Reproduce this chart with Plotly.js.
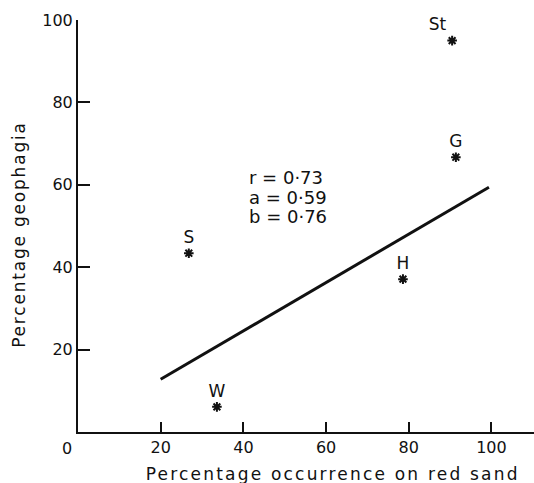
<!DOCTYPE html>
<html>
<head>
<meta charset="utf-8">
<script src="https://cdn.plot.ly/plotly-3.0.1.min.js"></script>
<style>html,body{margin:0;padding:0;background:#fff;}#chart{width:534px;height:483px;}</style>
</head>
<body>
<div id="chart"></div>
<script>
// Data
const pointLabels = ["St", "G", "S", "H", "W"];
const redSandPct = [90.5, 91.4, 26.8, 78.6, 33.6];
const geophagiaPct = [95.0, 66.7, 43.4, 37.1, 6.1];
const labelPositions = ["top left", "top center", "top center", "top center", "top center"];
const fitX = [20, 99.4];
const fitY = [12.8, 59.4];
const statsLines = ["r = 0·73", "a = 0·59", "b = 0·76"];
const statsY = [61.8, 57.0, 52.4];
const xTickVals = [20, 40, 60, 80, 100];
const yTickVals = [20, 40, 60, 80, 100];
const xTitle = "Percentage occurrence on red sand";
const yTitle = "Percentage geophagia";

const FONT = "DejaVu Sans, sans-serif";
const INK = "#111";

const traces = [
  {
    x: fitX, y: fitY, mode: "lines",
    line: {color: INK, width: 3},
    hoverinfo: "skip", showlegend: false
  },
  {
    x: redSandPct, y: geophagiaPct, mode: "markers+text",
    text: pointLabels, textposition: labelPositions,
    textfont: {family: FONT, size: 17, color: INK},
    marker: {symbol: "asterisk-open", size: 8, color: INK, line: {color: INK, width: 2}},
    cliponaxis: false,
    showlegend: false
  }
];

const annotations = [
  {xref: "paper", yref: "paper", x: -0.024, y: -0.013, xanchor: "center", yanchor: "top",
   text: "0", showarrow: false, font: {family: FONT, size: 16, color: INK}},
  {xref: "paper", yref: "paper", x: 0.559, y: -0.072, xanchor: "center", yanchor: "top",
   text: xTitle, showarrow: false, font: {family: FONT, size: 17, color: INK}},
  {xref: "paper", yref: "paper", x: -0.128, y: 0.48, xanchor: "center", yanchor: "middle",
   textangle: -90, text: yTitle, showarrow: false, font: {family: FONT, size: 17, color: INK}}
];
statsLines.forEach((s, i) => annotations.push({
  xref: "x", yref: "y", x: 40.9, y: statsY[i], xanchor: "left", yanchor: "middle",
  text: s, showarrow: false, font: {family: FONT, size: 18, color: INK}
}));

const layout = {
  width: 534, height: 483,
  margin: {l: 78, r: 0, t: 20, b: 51},
  paper_bgcolor: "#fff", plot_bgcolor: "#fff",
  font: {family: FONT, size: 16, color: INK},
  showlegend: false,
  xaxis: {
    range: [0, 110.3], showgrid: false, zeroline: false,
    showline: true, linecolor: INK, linewidth: 2,
    ticks: "inside", ticklen: 10, tickwidth: 2, tickcolor: INK,
    tickvals: xTickVals, ticktext: xTickVals.map(String),
    tickfont: {family: FONT, size: 16, color: INK}
  },
  yaxis: {
    range: [0, 100], showgrid: false, zeroline: false,
    showline: true, linecolor: INK, linewidth: 2,
    ticks: "inside", ticklen: 12, tickwidth: 2, tickcolor: INK,
    tickvals: yTickVals, ticktext: yTickVals.map(String),
    tickfont: {family: FONT, size: 16, color: INK}
  },
  annotations: annotations
};

Plotly.newPlot("chart", traces, layout, {staticPlot: true, displayModeBar: false}).then(() => {
  document.querySelectorAll("#chart .annotation-text").forEach(el => {
    const t = el.textContent;
    if (t === xTitle) el.style.letterSpacing = "2.2px";
    if (t === yTitle) el.style.letterSpacing = "1.8px";
  });
});
</script>
</body>
</html>
